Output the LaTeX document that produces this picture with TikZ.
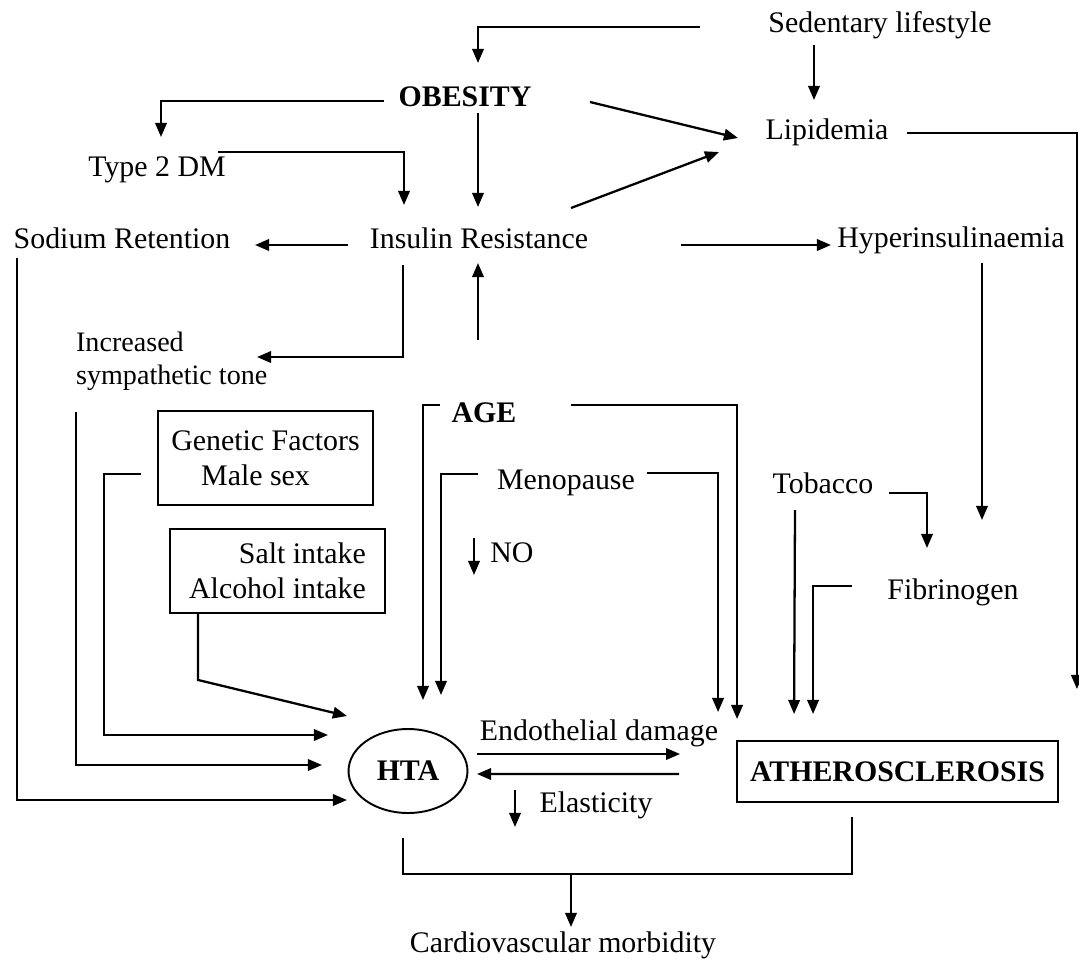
\documentclass[tikz,border=0pt]{standalone}
\usepackage{fontspec}
\setmainfont{Liberation Serif}
\usetikzlibrary{arrows.meta,calc,shapes.geometric,positioning}

\tikzset{
  lbl/.style={inner sep=1pt, font=\fontsize{17}{20}\selectfont},
  hdr/.style={lbl, font=\fontsize{17}{20}\selectfont\bfseries},
  factorbox/.style={draw, line width=1.1pt, lbl, minimum width=4.3cm},
  conn/.style={line width=1.3pt, -{Triangle[length=8pt,width=6.5pt]}},
  bare/.style={line width=1.2pt}
}

\begin{document}
\begin{tikzpicture}[x=0.02cm, y=-0.02cm]
\useasboundingbox (0,0) rectangle (1079,964);
\node[lbl] (sed) at (880,25) {Sedentary lifestyle};
\node[hdr] (obes) at (465,97) {OBESITY};
\node[lbl] (lip) at (827,132) {Lipidemia};
\node[lbl] (t2dm) at (157,170) {Type 2 DM};
\node[lbl] (sod) at (122,238) {Sodium Retention};
\node[lbl] (ins) at (479,238) {Insulin Resistance};
\node[lbl] (hyper) at (951,240) {Hyperinsulinaemia};
\node[lbl, anchor=west, align=left, font=\fontsize{16}{19}\selectfont] (symp) at (74,361) {Increased\\sympathetic tone};
\node[factorbox, minimum height=1.88cm, align=left] (gen) at (265.5,458) {Genetic Factors\\\quad Male sex};
\node[factorbox, minimum height=1.68cm, align=right] (salt) at (277.5,571) {Salt intake\\Alcohol intake};
\node[hdr] (age) at (484,413) {AGE};
\node[lbl] (meno) at (566,483) {Menopause};
\node[lbl] (no) at (512,553) {NO};
\node[lbl] (tob) at (823,483) {Tobacco};
\node[lbl] (fib) at (953,592) {Fibrinogen};
\node[draw, ellipse, line width=1.1pt, hdr, minimum width=2.38cm, minimum height=1.68cm, inner sep=0pt] (hta) at (408,771) {HTA};
\node[lbl] (endo) at (599,733) {Endothelial damage};
\node[lbl] (elast) at (596,805) {Elasticity};
\node[factorbox, hdr, minimum width=6.42cm, minimum height=1.22cm] (ath) at (897.5,771.5) {ATHEROSCLEROSIS};
\node[lbl] (cvm) at (563,945) {Cardiovascular morbidity};

\draw[conn] ($(sed)+(-180,2)$) -| ($(obes)+(13,-34)$);
\draw[conn] ($(sed)+(-66,20)$) -- ($(lip)+(-13,-32)$);
\draw[conn] ($(obes)+(125,5)$) -- ($(lip)+(-89,6)$);
\draw[conn] ($(ins)+(92,-30)$) -- ($(lip)+(-108,20)$);
\draw[conn] ($(lip)+(80,1)$) -| ($(ath.north east)+(18,-51)$);
\draw[conn] ($(obes)+(-81,4)$) -| ($(t2dm)+(4,-33)$);
\draw[conn] ($(t2dm)+(61,-18)$) -| ($(ins)+(-75,-33)$);
\draw[conn] ($(obes)+(13,16)$) -- ($(ins)+(-1,-31)$);
\draw[conn] ($(ins)+(-131,7)$) -- ($(sod)+(133,7)$);
\draw[conn] ($(ins)+(202,7)$) -- ($(hyper)+(-120,5)$);
\draw[conn] ($(hyper)+(31,23)$) -- ($(fib)+(29,-72)$);
\draw[conn] ($(sod)+(-105,20)$) |- ($(hta)+(-61,29)$);
\draw[conn] ($(ins)+(-76,27)$) |- ($(symp.west)+(183,-4)$);
\draw[conn] ($(age)+(-6,-73)$) -- ($(ins)+(-1,25)$);
\draw[conn] ($(symp.west)+(2,51)$) |- ($(hta)+(-86,-6)$);
\draw[conn] ($(gen.west)+(-16,16)$) -- ++(-37,0) |- ($(hta)+(-80,-36)$);
\draw[conn] ($(salt.south west)+(29,0)$) -- ++(0,66) -- ($(hta)+(-61,-55)$);
\draw[conn] ($(age)+(-44,-8)$) -| ($(hta)+(15,-71)$);
\draw[conn] ($(meno)+(-88,-9)$) -| ($(hta)+(33,-76)$);
\draw[conn] ($(no)+(-38,-15)$) -- ($(no)+(-38,22)$);
\draw[conn] ($(age)+(87,-8)$) -| ($(ath.north west)+(1,-21)$);
\draw[conn] ($(meno)+(81,-10)$) -| ($(ath.north west)+(-18,-28)$);
\draw[conn] ($(tob)+(66,10)$) -| ($(fib)+(-26,-44)$);
\draw[conn] ($(tob)+(-28,27)$) -- ($(ath.north west)+(58,-26)$);
\draw[conn] ($(fib)+(-101,-6)$) -| ($(ath.north west)+(77,-26)$);
\draw[conn] ($(hta)+(69,-17)$) -- ($(ath.west)+(-56,-17.5)$);
\draw[conn] ($(ath.west)+(-57,2.5)$) -- ($(hta)+(69,3)$);
\draw[conn] ($(elast)+(-81,-15)$) -- ($(elast)+(-81,22)$);
\draw[bare] ($(hta.south)+(-5,24)$) |- ($(ath.south)+(-45.5,71)$) -- ($(ath.south)+(-45.5,14)$);
\draw[conn] ($(cvm)+(8,-72)$) -- ($(cvm)+(8,-18)$);
\end{tikzpicture}
\end{document}
